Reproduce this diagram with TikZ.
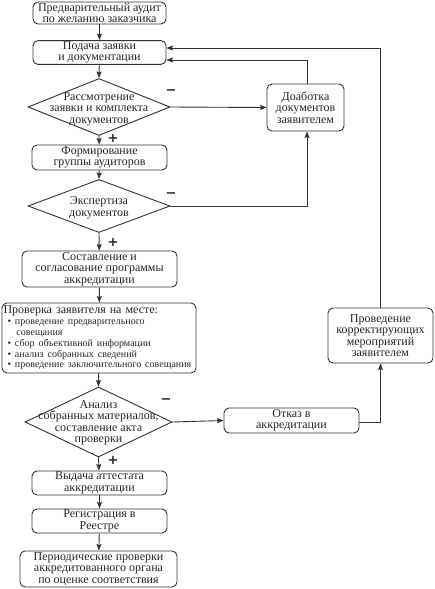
\documentclass[tikz,border=0pt]{standalone}
\usepackage{fontspec}
\setmainfont{Liberation Serif}
\newfontfamily\signfont{DejaVu Sans}
\usetikzlibrary{shapes.geometric,arrows.meta,calc}
\begin{document}
\begin{tikzpicture}[x=1pt,y=-1pt,
  every node/.style={font=\fontsize{12}{11.4}\selectfont, text=black!85},
  box/.style={draw=black!80, line width=0.9pt, rounded corners=5pt, align=center, inner sep=1pt},
  dia/.style={draw=black!80, line width=0.9pt, diamond, inner sep=0pt},
  txt/.style={align=center, inner sep=0pt},
  arr/.style={draw=black!80, line width=0.9pt, -{Stealth[length=6.5pt,width=5pt,inset=1pt]}},
  sg/.style={font=\signfont\bfseries\fontsize{13}{13}\selectfont, inner sep=0pt}]
\useasboundingbox (0,0) rectangle (434,589);
% left column
\node[box, minimum width=133pt, minimum height=22pt] (b1) at (99.5,13) {Предварительный аудит\\по желанию заказчика};
\node[box, minimum width=133pt, minimum height=23pt] (b2) at (99.5,52.5) {Подача заявки\\и документации};
\node[dia, minimum width=142pt, minimum height=57pt] (d1) at (99,107) {};
\node[txt] (t1) at (99,109) {Рассмотрение\\заявки и комплекта\\документов};
\node[box, minimum width=135pt, minimum height=25pt] (b3) at (99.5,157.5) {Формирование\\группы аудиторов};
\node[dia, minimum width=142pt, minimum height=53pt] (d2) at (99,206) {};
\node[txt] (t2) at (99,208) {Экспертиза\\документов};
\node[box, minimum width=155pt, minimum height=36pt] (b4) at (99.5,269) {Составление и\\согласование программы\\аккредитации};
\node[box, minimum width=194pt, minimum height=70pt, text width=191pt, align=left, inner sep=1.5pt] (b5) at (99,338)
 {{\fontsize{12}{12}\selectfont Проверка заявителя на месте:\par}
  {\fontsize{10}{10.8}\selectfont
  \hspace*{4pt}\textbullet\hspace{4pt}проведение предварительного\\
  \hspace*{13pt}совещания\\
  \hspace*{4pt}\textbullet\hspace{4pt}сбор объективной информации\\
  \hspace*{4pt}\textbullet\hspace{4pt}анализ собранных сведений\\
  \hspace*{4pt}\textbullet\hspace{4pt}проведение заключительного совещания\par}};
\node[dia, minimum width=147pt, minimum height=70pt] (d3) at (98.5,422) {};
\node[txt] (t3) at (98.5,423) {Анализ\\собранных материалов,\\составление акта\\проверки};
\node[box, minimum width=135pt, minimum height=24pt] (b6) at (99.5,483) {Выдача аттестата\\аккредитации};
\node[box, minimum width=135pt, minimum height=24pt] (b7) at (99.5,521) {Регистрация в\\Реестре};
\node[box, minimum width=157pt, minimum height=36pt] (b8) at (98.5,569) {Периодические проверки\\аккредитованного органа\\по оценке соответствия};
% right column
\node[box, minimum width=77pt, minimum height=47pt] (r1) at (305.5,107.5) {Доаботка\\документов\\заявителем};
\node[box, minimum width=105pt, minimum height=55pt] (r2) at (380.5,335.5) {Проведение\\корректирующих\\мероприятий\\заявителем};
\node[box, minimum width=135pt, minimum height=25pt] (r3) at (291.5,420.5) {Отказ в\\аккредитации};
% main flow
\draw[arr] (b1) -- (b2);
\draw[arr] (b2) -- (d1.north);
\draw[arr] (d1.south) -- (b3);
\draw[arr] (b3) -- (d2.north);
\draw[arr] (d2.south) -- (b4);
\draw[arr] (b4) -- (b5);
\draw[arr] (b5) -- (d3.north);
\draw[arr] (d3.south) -- (b6);
\draw[arr] (b6) -- (b7);
\draw[arr] (b7) -- (b8);
% signs
\node[sg] (p1) at (113,138) {+};
\node[sg] (p2) at (113,242) {+};
\node[sg] (p3) at (113,460) {+};
\node[sg] (m1) at (171,92) {−};
\node[sg] (m2) at (171,195) {−};
\node[sg] (m3) at (166,401) {−};
% side loops
\draw[arr] (d1.east) -- (r1.west);
\draw[arr] ([xshift=1.5pt]r1.north) |- ([yshift=-7.5pt]b2.east);
\draw[arr] (d2.east) -| ([xshift=1.5pt]r1.south);
\draw[arr] (d3.east) -- (r3.west);
\draw[arr] ([yshift=-1.5pt]r3.east) -| (r2.south);
\draw[arr] (r2.north) |- ([yshift=4.5pt]b2.east);
\end{tikzpicture}
\end{document}
